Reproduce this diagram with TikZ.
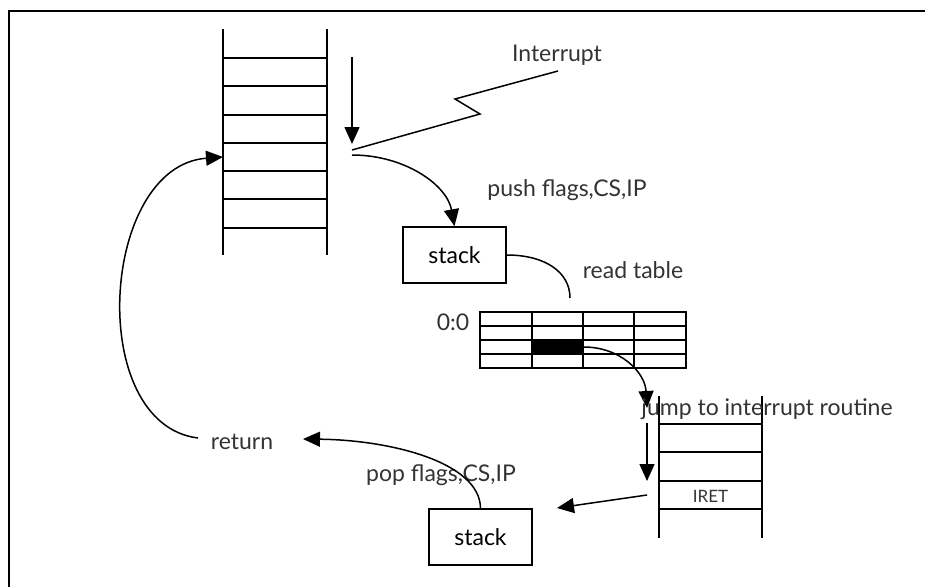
\documentclass[tikz,border=0pt]{standalone}
\usepackage{fontspec}
\setmainfont{Lato}
\usetikzlibrary{arrows.meta}

\begin{document}
\begin{tikzpicture}[x=1pt, y=-1pt, line width=1.5pt,
  lbl/.style={font=\fontsize{23}{27}\selectfont, inner sep=0pt, text=black!80},
  smalllbl/.style={font=\fontsize{17}{20}\selectfont, inner sep=0pt, text=black!80},
  stackbox/.style={draw, minimum width=103pt, minimum height=56pt, inner sep=0pt,
                   font=\fontsize{23}{27}\selectfont},
  arr/.style={-{Triangle[length=17pt,width=15pt]}},
  rail/.style={line width=1.8pt}]
\useasboundingbox (0,0) rectangle (925,587);

% frame edges
\draw[line width=2pt] (9,587) -- (9,11) -- (925,11);

% main program memory ladder
\coordinate (mtl) at (223,29);  \coordinate (mbl) at (223,255);
\coordinate (mtr) at (327,29);  \coordinate (mbr) at (327,255);
\draw[rail] (mtl) -- (mbl) (mtr) -- (mbr);
\foreach \y in {58,86,115,143,171,199,228}
  \draw[rail] (223,\y) -- (327,\y);
\coordinate (mret) at (223,157);

% current-instruction pointer and interrupt signal
\coordinate (ptop) at (352,57);
\coordinate (pbot) at (352,144);
\draw[arr] (ptop) -- (pbot);
\coordinate (z0) at (352,150);
\coordinate (z1) at (480,114);
\coordinate (z2) at (455,99);
\coordinate (z3) at (558,71);
\draw (z0) -- (z1) -- (z2) -- (z3);
\node[lbl] (intr) at (557,55) {Interrupt};

% push to stack
\node[stackbox] (stk1) at (454.5,255) {stack};
\coordinate (pushfrom) at (352,155);
\draw[arr] (pushfrom) .. controls (405,155) and (447,185) .. (stk1.north);
\node[lbl] (push) at (567,190) {push flags,CS,IP};

% interrupt vector table
\node[lbl] (rt) at (633,270) {read table};
\node[lbl] (zz) at (453,322) {0:0};
\coordinate (ttop) at (570,298);
\draw (stk1.east) .. controls (545,255) and (570,272) .. (ttop);
\node[draw=none, fill=black, minimum width=51pt, minimum height=14pt, inner sep=0pt]
  (vec) at (557.5,347) {};
\draw[rail] (480,312) rectangle (686,368);
\foreach \y in {326,340,354} \draw[rail] (480,\y) -- (686,\y);
\foreach \x in {532,583,634} \draw[rail] (\x,312) -- (\x,368);

% jump to the interrupt routine
\coordinate (jto) at (647,408);
\draw[arr] (vec.east) .. controls (620,347) and (645,372) .. (jto);

% interrupt routine ladder
\coordinate (rtl) at (659,396);  \coordinate (rbl) at (659,538);
\coordinate (rtr) at (762,396);  \coordinate (rbr) at (762,538);
\draw[rail] (rtl) -- (rbl) (rtr) -- (rbr);
\foreach \y in {424,452,481,509}
  \draw[rail] (659,\y) -- (762,\y);
\node[smalllbl] (iret) at (710.5,496) {IRET};
\node[lbl] (jump) at (767,409) {jump to interrupt routine};

\coordinate (rptop) at (647,423);
\coordinate (rpbot) at (647,481);
\draw[arr] (rptop) -- (rpbot);

% pop from stack
\node[stackbox] (stk2) at (480.5,537) {stack};
\coordinate (iretfrom) at (647,495);
\coordinate (iretto) at (557,508);
\draw[arr] (iretfrom) -- (iretto);
\node[lbl] (pop) at (441,475) {pop flags,CS,IP};
\node[lbl] (ret) at (242,442) {return};
\coordinate (rettip) at (303,439);
\draw[arr] (stk2.north) .. controls (480,462) and (390,440) .. (rettip);
\coordinate (retfrom) at (198,438);
\draw[arr] (retfrom) .. controls (85,424) and (100,166) .. (mret);
\end{tikzpicture}
\end{document}
